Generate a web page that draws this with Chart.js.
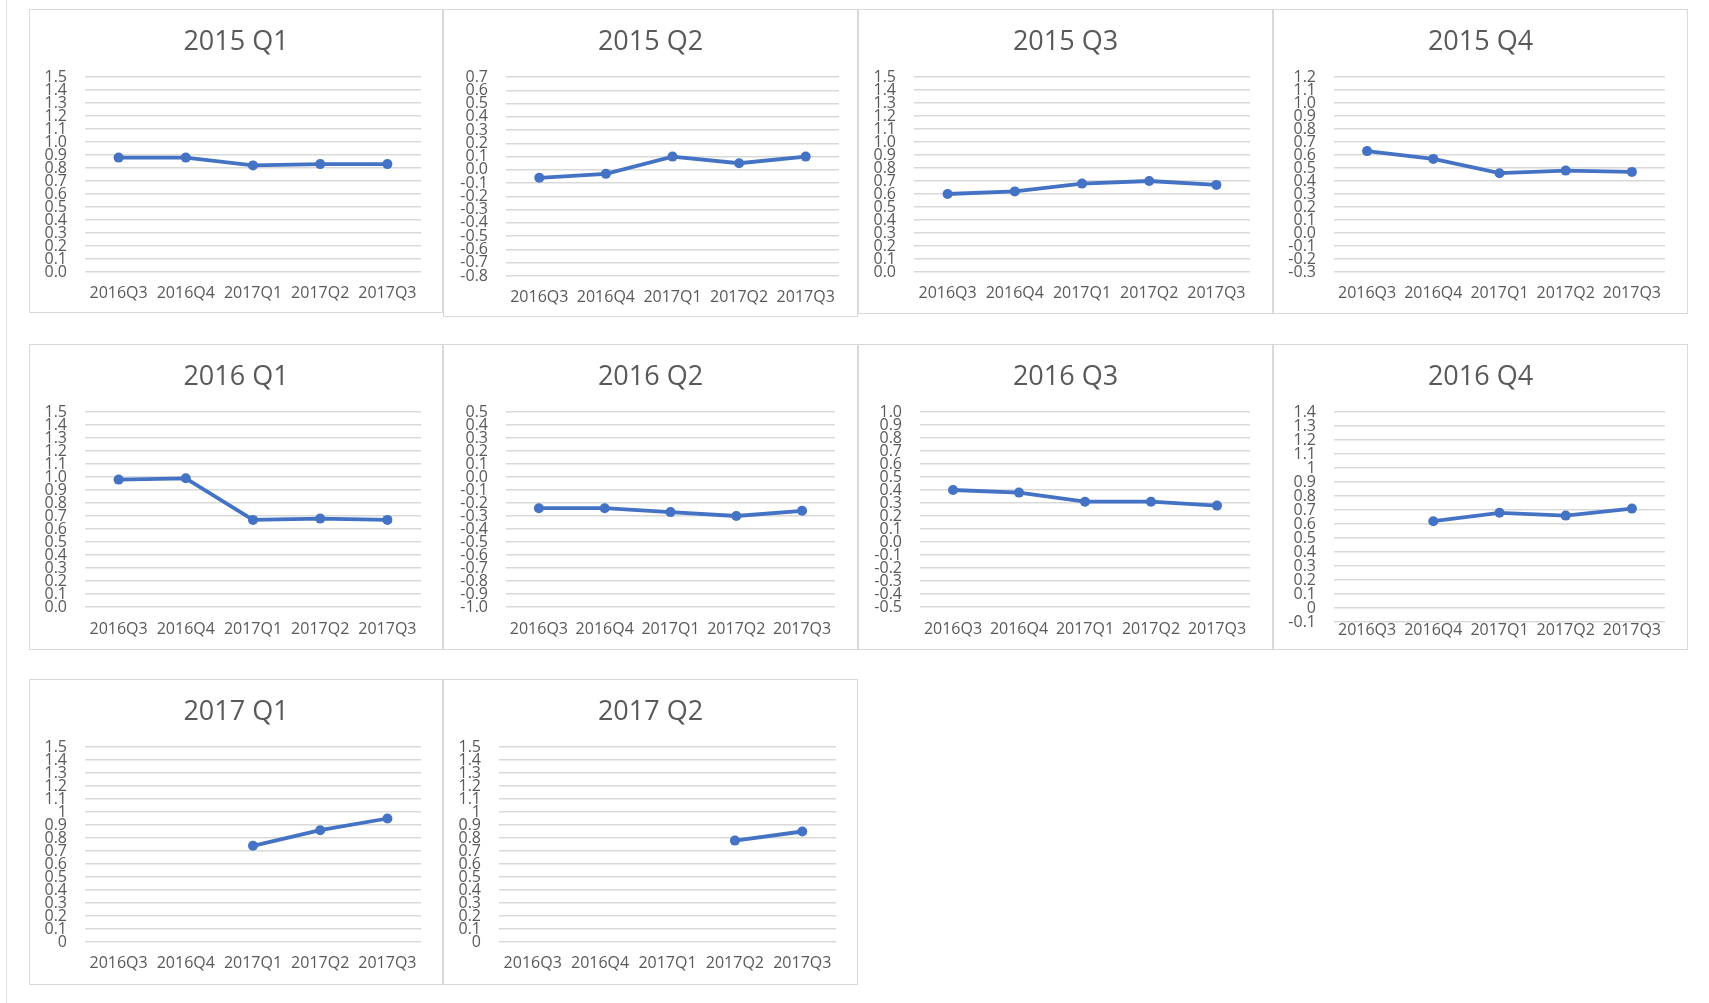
<!DOCTYPE html>
<html>
<head>
<meta charset="utf-8">
<script src="https://cdn.jsdelivr.net/npm/chart.js@4.4.0/dist/chart.umd.min.js"></script>
<style>
  body { margin: 0; background: #fff; width: 1709px; height: 1003px; overflow: hidden; position: relative; }
  .frame { position: absolute; border: 1px solid #d9d9d9; box-sizing: border-box; }
  canvas { position: absolute; }
  #edge { position: absolute; left: 6px; top: 0; width: 1px; height: 1003px; background: #e3e3e3; }
</style>
</head>
<body>
<div id="edge"></div>
<script>
// Quarters on the x axis (same for every panel)
const categories = ['2016Q3', '2016Q4', '2017Q1', '2017Q2', '2017Q3'];
const titles = ['2015 Q1', '2015 Q2', '2015 Q3', '2015 Q4', '2016 Q1', '2016 Q2', '2016 Q3', '2016 Q4', '2017 Q1', '2017 Q2'];

// One series per panel
const s2015Q1 = [0.88, 0.88, 0.82, 0.83, 0.83];
const s2015Q2 = [-0.06, -0.03, 0.10, 0.05, 0.10];
const s2015Q3 = [0.60, 0.62, 0.68, 0.70, 0.67];
const s2015Q4 = [0.63, 0.57, 0.46, 0.48, 0.47];
const s2016Q1 = [0.98, 0.99, 0.67, 0.68, 0.67];
const s2016Q2 = [-0.24, -0.24, -0.27, -0.30, -0.26];
const s2016Q3 = [0.40, 0.38, 0.31, 0.31, 0.28];
const s2016Q4 = [null, 0.62, 0.68, 0.66, 0.71];
const s2017Q1 = [null, null, 0.74, 0.86, 0.95];
const s2017Q2 = [null, null, null, 0.78, 0.85];
const seriesList = [s2015Q1, s2015Q2, s2015Q3, s2015Q4, s2016Q1, s2016Q2, s2016Q3, s2016Q4, s2017Q1, s2017Q2];

// Y tick range per panel, 0.1 apart
const yMin = [0, -0.8, 0, -0.3, 0, -1.0, -0.5, -0.1, 0, 0];
const yMax = [1.5, 0.7, 1.5, 1.2, 1.5, 0.5, 1.0, 1.4, 1.5, 1.5];
const yStep = 0.1;
const yFormat = ['0.0', '0.0', '0.0', '0.0', '0.0', '0.0', '0.0', 'general', 'general', 'general'];

// Layout in page pixels: frame box, plot box, gap from plot bottom to label centre
const panels = [
    { box: [29, 9, 443, 313],    plot: [85, 77, 421, 272],     gap: 21 },
    { box: [443, 9, 858, 317],   plot: [506, 77, 839, 276],    gap: 21 },
    { box: [858, 9, 1273, 314],  plot: [914, 77, 1250, 272],   gap: 21 },
    { box: [1273, 9, 1688, 314], plot: [1334, 77, 1665, 272],  gap: 21 },
    { box: [29, 344, 443, 650],  plot: [85, 412, 421, 607],    gap: 22 },
    { box: [443, 344, 858, 650], plot: [506, 412, 835, 607],   gap: 22 },
    { box: [858, 344, 1273, 650], plot: [920, 412, 1250, 607], gap: 22 },
    { box: [1273, 344, 1688, 650], plot: [1334, 412, 1665, 622], gap: 8 },
    { box: [29, 679, 443, 985],  plot: [85, 747, 421, 942],    gap: 21 },
    { box: [443, 679, 858, 985], plot: [499, 747, 836, 942],   gap: 21 }
];

const FONT = "'Open Sans', 'Noto Sans', sans-serif";
const TEXT = '#595959';
const GRID = '#d9d9d9';
const LINE = '#4472C4';

function yTickValues(i) {
    const vals = [];
    const n = Math.round((yMax[i] - yMin[i]) / yStep);
    for (let k = 0; k <= n; k++) vals.push(Math.round((yMin[i] + k * yStep) * 10) / 10 + 0);
    return vals;
}

function formatTick(v, fmt) {
    const r = Math.round(v * 10) / 10 + 0;
    return fmt === '0.0' ? r.toFixed(1) : String(r);
}

function createPanel(i) {
    const p = panels[i];
    const [bl, bt, br, bb] = p.box;
    const [pl, pt, pr, pb] = p.plot;
    const w = br - bl, h = bb - bt;

    const frame = document.createElement('div');
    frame.className = 'frame';
    frame.style.left = bl + 'px';
    frame.style.top = bt + 'px';
    frame.style.width = w + 'px';
    frame.style.height = h + 'px';
    document.body.appendChild(frame);

    const canvas = document.createElement('canvas');
    canvas.width = w;
    canvas.height = h;
    canvas.style.left = bl + 'px';
    canvas.style.top = bt + 'px';
    document.body.appendChild(canvas);

    const titleSize = 27;
    const titleTop = 17;
    const titleBottom = (pt - bt) - titleTop - titleSize * 1.2;
    const xFont = 16;

    new Chart(canvas.getContext('2d'), {
        type: 'line',
        data: {
            labels: categories,
            datasets: [{
                data: seriesList[i],
                borderColor: LINE,
                backgroundColor: LINE,
                borderWidth: 3.8,
                pointRadius: 5,
                pointBorderWidth: 0,
                pointBackgroundColor: LINE,
                tension: 0,
                spanGaps: false
            }]
        },
        options: {
            responsive: false,
            animation: false,
            devicePixelRatio: 1,
            layout: { padding: 0 },
            plugins: {
                legend: { display: false },
                tooltip: { enabled: false },
                title: {
                    display: true,
                    text: titles[i],
                    color: TEXT,
                    font: { family: FONT, size: titleSize, weight: 'normal' },
                    padding: { top: titleTop, bottom: titleBottom }
                }
            },
            scales: {
                x: {
                    offset: true,
                    grid: { display: false, drawTicks: false },
                    border: { display: false },
                    ticks: {
                        color: TEXT,
                        font: { family: FONT, size: xFont },
                        padding: p.gap - xFont * 0.6,
                        maxRotation: 0,
                        autoSkip: false
                    },
                    afterFit: scale => { scale.height = bb - pb; }
                },
                y: {
                    min: yMin[i],
                    max: yMax[i],
                    grid: { color: GRID, lineWidth: 1.5, drawTicks: false },
                    border: { display: false },
                    ticks: {
                        color: TEXT,
                        font: { family: FONT, size: 16, lineHeight: 1 },
                        padding: 18,
                        autoSkip: false,
                        callback: v => formatTick(v, yFormat[i])
                    },
                    afterBuildTicks: scale => {
                        scale.ticks = yTickValues(i).map(v => ({ value: v }));
                    },
                    afterFit: scale => { scale.width = pl - bl; }
                },
                // empty right-hand margin so the title stays centred on the frame
                gutter: {
                    type: 'linear',
                    position: 'right',
                    grid: { display: false, drawTicks: false },
                    border: { display: false },
                    ticks: { display: false },
                    afterFit: scale => { scale.width = br - pr; }
                }
            }
        }
    });
}

for (let i = 0; i < panels.length; i++) createPanel(i);
</script>
</body>
</html>
